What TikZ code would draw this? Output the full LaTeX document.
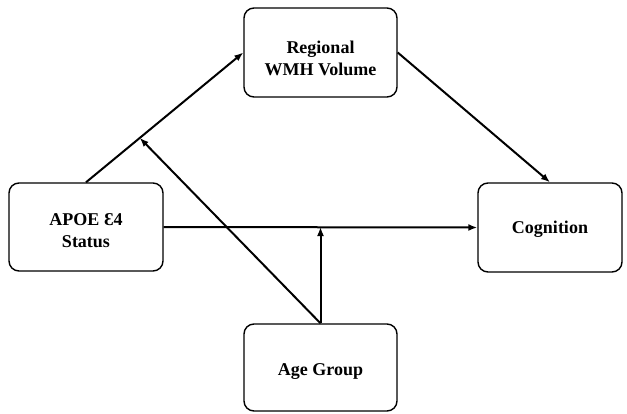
\documentclass[tikz,border=0pt]{standalone}
\usepackage{fontspec}
\setmainfont{Liberation Serif}
\usetikzlibrary{arrows.meta,calc}
\tikzset{
  box/.style={draw=black, line width=1.4pt, rounded corners=10pt, fill=white, inner sep=0pt},
  txt/.style={align=center, font=\fontsize{18}{22}\selectfont\bfseries, inner sep=0pt},
  arr/.style={line width=2pt, -{Latex[length=9pt,width=7pt]}},
}
\begin{document}
\begin{tikzpicture}[x=1pt,y=-1pt]
\useasboundingbox (0,0) rectangle (627,413);
\node[box, minimum width=154pt, minimum height=88pt] (apoe) at (86,227) {};
\node[box, minimum width=153pt, minimum height=89pt] (wmh) at (320.5,52.5) {};
\node[box, minimum width=153pt, minimum height=87pt] (age) at (320.5,367.5) {};
\node[box, minimum width=144pt, minimum height=89pt] (cog) at (550,227.5) {};
\node[txt] (apoet) at ([yshift=-4pt]apoe.center) {APOE Ɛ4\\Status};
\node[txt] (wmht) at ([yshift=-6pt]wmh.center) {Regional\\WMH Volume};
\node[txt] (aget) at ([yshift=-4pt]age.center) {Age Group};
\node[txt] (cogt) at ([yshift=-2pt]cog.center) {Cognition};
\coordinate (m) at ($(apoe.north)!0.342!(wmh.west)$);
\coordinate (h) at (age.north |- apoe.east);
\draw[arr] (apoe.north) -- (wmh.west);
\draw[arr] (wmh.east) -- (cog.north);
\draw[arr] (apoe.east) -- (cog.west);
\draw[arr] (age.north) -- (h);
\draw[arr] (age.north) -- (m);
\end{tikzpicture}
\end{document}
